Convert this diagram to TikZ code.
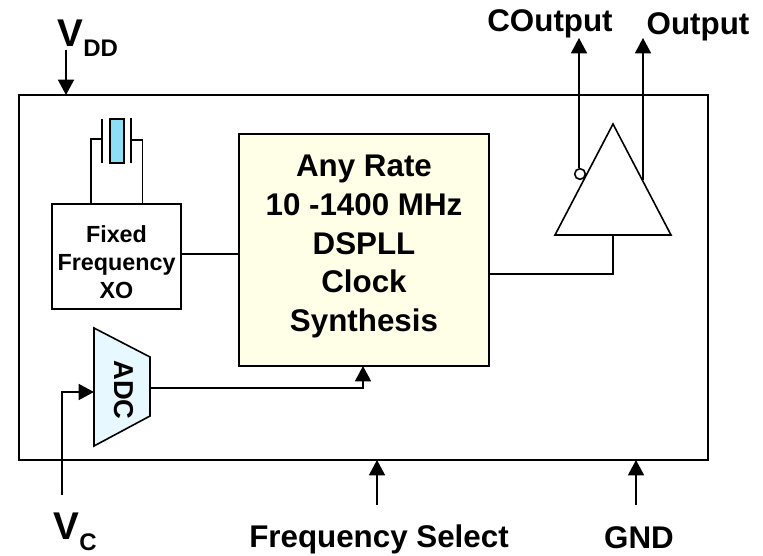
\documentclass[tikz,border=0pt]{standalone}
\usepackage{fontspec}
\setmainfont{Liberation Sans}
\usetikzlibrary{arrows.meta}
\definecolor{paleyellow}{HTML}{FFFFE8}
\definecolor{crystalblue}{HTML}{8CE0F5}
\definecolor{adcblue}{HTML}{E8F8FF}
\tikzset{
  wire/.style={line width=1.2pt,black},
  arrowwire/.style={wire,-{Triangle[length=11.5pt,width=12pt]}},
  lbl/.style={inner sep=0pt,font=\bfseries\fontsize{23.5}{23.5}\selectfont},
  biglbl/.style={inner sep=0pt,font=\bfseries\fontsize{29}{29}\selectfont},
  sublbl/.style={inner sep=0pt,font=\bfseries\fontsize{18}{18}\selectfont},
  smalllbl/.style={inner sep=0pt,align=center,font=\bfseries\fontsize{17.5}{21}\selectfont},
}
\begin{document}
\begin{tikzpicture}[x=0.75pt,y=-0.75pt]
\useasboundingbox (0,0) rectangle (763,556);
\node[draw,wire,minimum width=516.75pt,minimum height=273.75pt,inner sep=0pt] (chip) at (363.5,277.5) {};
\node[draw,wire,fill=paleyellow,minimum width=187.5pt,minimum height=174pt,inner sep=0pt] (synth) at (364,250) {};
\node[inner sep=0pt,align=center,font=\bfseries\fontsize{23.5}{29}\selectfont] (synthtext) at (364,246.5) {Any Rate\\10 -1400 MHz\\DSPLL\\Clock\\Synthesis};
\node[draw,wire,minimum width=96.75pt,minimum height=78.75pt,inner sep=0pt] (xo) at (116.5,256.5) {};
\node[smalllbl] (xotext) at (116.5,262) {Fixed\\Frequency\\XO};
\node[draw,wire,fill=crystalblue,minimum width=10.5pt,minimum height=33pt,inner sep=0pt] (xtal) at (117,141) {};
\coordinate (pl1) at (102,119);
\coordinate (pl2) at (102,163);
\coordinate (pr1) at (131,118);
\coordinate (pr2) at (131,163);
\draw[wire] (pl1) -- (pl2);
\draw[wire] (pr1) -- (pr2);
\coordinate (lxo) at (91,204);
\coordinate (rxo) at (142.5,204);
\draw[wire] (102,139) -| (lxo);
\draw[wire] (131,140) -| (rxo);
\coordinate (xoout) at (181,254);
\draw[wire] (xoout) -- (xoout -| synth.west);
% ADC
\coordinate (a1) at (94,328);
\coordinate (a2) at (150,357);
\coordinate (a3) at (150,416);
\coordinate (a4) at (94,446);
\draw[wire,line join=miter,fill=adcblue] (a1) -- (a2) -- (a3) -- (a4) -- cycle;
\node[inner sep=0pt,rotate=-90,font=\bfseries\fontsize{20.5}{20.5}\selectfont] (adc) at (124,390) {ADC};
\coordinate (adcout) at (150,388);
\coordinate (synthin) at (363,366);
\draw[arrowwire] (adcout) -| (synthin);
\coordinate (adcin) at (94,392);
\coordinate (vcb) at (62,495);
\draw[arrowwire] (vcb) |- (adcin);
% Driver
\coordinate (tA) at (613,124);
\coordinate (tL) at (555,235);
\coordinate (tR) at (671,235);
\draw[wire,line join=miter] (tA) -- (tL) -- (tR) -- cycle;
\coordinate (tB) at (613,235);
\coordinate (synthout) at (489,274);
\draw[wire] (synthout) -| (tB);
\node[draw,wire,fill=white,circle,minimum size=8pt,inner sep=0pt] (bub) at (580,174) {};
\coordinate (ct) at (579,38);
\coordinate (ot) at (643,38);
\draw[arrowwire] (bub.north -| ct) -- (ct);
\coordinate (ob) at (643,180);
\draw[arrowwire] (ob) -- (ot);
% other pins
\coordinate (vddt) at (66,50);
\coordinate (vddb) at (66,95);
\draw[arrowwire] (vddt) -- (vddb);
\coordinate (fst) at (377,505);
\coordinate (fsb) at (377,460);
\draw[arrowwire] (fst) -- (fsb);
\coordinate (gt) at (636,505);
\coordinate (gb) at (636,460);
\draw[arrowwire] (gt) -- (gb);
% labels
\node[biglbl] (vdd) at (70,33.5) {V};
\node[sublbl,anchor=west] (dd) at (83,48.5) {DD};
\node[biglbl] (vc) at (66,526) {V};
\node[sublbl,anchor=west] (cc) at (79,542.5) {C};
\node[lbl] (co) at (550,24) {COutput};
\node[lbl] (o) at (698,27) {Output};
\node[lbl] (fs) at (379,539) {Frequency Select};
\node[lbl] (g) at (639,537.5) {GND};
\end{tikzpicture}
\end{document}
